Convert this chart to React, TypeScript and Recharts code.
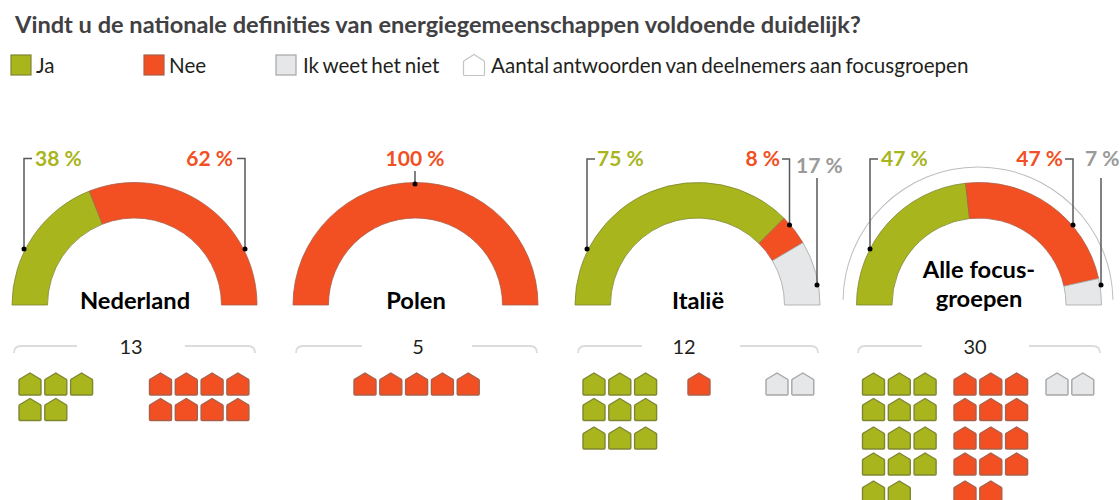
import React from 'react';
import { PieChart, Pie, Cell, ScatterChart, Scatter, XAxis, YAxis } from 'recharts';

const title = 'Vindt u de nationale definities van energiegemeenschappen voldoende duidelijk?';
const legendLabels = ['Ja', 'Nee', 'Ik weet het niet', 'Aantal antwoorden van deelnemers aan focusgroepen'];
const answers = ['Ja', 'Nee', 'Ik weet het niet'];

const jaPct = [38, 0, 75, 47];
const neePct = [62, 100, 8, 47];
const wnPct = [0, 0, 17, 7];
const jaCount = [5, 0, 9, 14];
const neeCount = [8, 5, 1, 14];
const wnCount = [0, 0, 2, 2];
const totals = [13, 5, 12, 30];

const GREEN = '#a8b51d';
const RED = '#f24f23';
const GREY = '#e6e7e8';
const FONT = 'Lato, "Open Sans", sans-serif';
const colors = [GREEN, RED, GREY];
const strokes = ['#7f8632', '#a9604a', '#a6a6a6'];

const centers = [134.5, 415.5, 697.5, 979];
const CY = 305;
const R = 122.5;
const r = 87;

const pieData = (i: number) =>
  answers
    .map((name, k) => ({ name, value: [jaPct, neePct, wnPct][k][i], k }))
    .filter((d) => d.value > 0);

// x of each answer's first house column, and columns per answer, for each group
const houseX = [
  [30, 160.5, 0],
  [0, 365, 0],
  [594, 699, 777],
  [873.5, 965, 1057],
];
const houseCols = [
  [3, 4, 1],
  [1, 5, 1],
  [3, 1, 2],
  [3, 3, 2],
];
const rowY = [384, 409.5, 438, 464, 492];
const PITCH = 25.8;

const houses = (k: number) => {
  const counts = [jaCount, neeCount, wnCount][k];
  const out: { x: number; y: number }[] = [];
  counts.forEach((n, g) => {
    for (let j = 0; j < n; j++) {
      const cols = houseCols[g][k];
      out.push({ x: houseX[g][k] + (j % cols) * PITCH, y: rowY[Math.floor(j / cols)] });
    }
  });
  return out;
};

const housePath = (x: number, y: number, w = 22, h = 22) => {
  const l = x - w / 2;
  const t = y - h / 2;
  return `M${l + 1} ${t + 6}L${x} ${t}L${l + w - 1} ${t + 6}Q${l + w} ${t + 6.5} ${l + w} ${t + 7.5}V${t + h - 1}Q${l + w} ${t + h} ${l + w - 1} ${t + h}H${l + 1}Q${l} ${t + h} ${l} ${t + h - 1}V${t + 7.5}Q${l} ${t + 6.5} ${l + 1} ${t + 6}Z`;
};

const House = (k: number) => (props: any) => (
  <path d={housePath(props.cx, props.cy)} fill={colors[k]} stroke={strokes[k]} strokeWidth={1.4} />
);

type Leader = { label: string; k: number; tx: number; ty: number; anchor: string; path: string; dx: number; dy: number };
const leaders: Leader[] = [
  { label: '38 %', k: 0, tx: 35, ty: 166, anchor: 'start', path: 'M24 249V158.5H32', dx: 24, dy: 249 },
  { label: '62 %', k: 1, tx: 233, ty: 166, anchor: 'end', path: 'M245 249V158.5H237', dx: 245, dy: 249 },
  { label: '100 %', k: 1, tx: 415, ty: 166, anchor: 'middle', path: 'M415 184V171', dx: 415, dy: 184 },
  { label: '75 %', k: 0, tx: 597, ty: 166, anchor: 'start', path: 'M587 249V159H595', dx: 587, dy: 249 },
  { label: '8 %', k: 1, tx: 780, ty: 166, anchor: 'end', path: 'M789.5 225V159H782', dx: 789.5, dy: 225 },
  { label: '17 %', k: 2, tx: 796, ty: 173, anchor: 'start', path: 'M817 285V178', dx: 817, dy: 285 },
  { label: '47 %', k: 0, tx: 881, ty: 166, anchor: 'start', path: 'M870 249V159H878', dx: 870, dy: 249 },
  { label: '47 %', k: 1, tx: 1063, ty: 166, anchor: 'end', path: 'M1073 225V159H1065', dx: 1073, dy: 225 },
  { label: '7 %', k: 2, tx: 1085, ty: 166, anchor: 'start', path: 'M1101 285V178', dx: 1101, dy: 285 },
];

const brackets = [
  { l: 14, lEnd: 77, rStart: 185, r: 255, tx: 131 },
  { l: 296, lEnd: 362, rStart: 472, r: 537, tx: 418 },
  { l: 578, lEnd: 642, rStart: 740, r: 818, tx: 684 },
  { l: 858, lEnd: 922, rStart: 1029, r: 1100, tx: 975 },
];

const legendX = [11, 144, 276, 463];
const legendTextX = [36, 169, 303, 491];
const textColors = [GREEN, RED, '#9a9a9a'];

export default function App() {
  return (
    <div style={{ position: 'absolute', left: 0, top: 0, width: 1120, height: 500, overflow: 'hidden', background: '#fff' }}>
      <div style={{ position: 'absolute', left: 0, top: 0 }}>
        <PieChart width={1120} height={500} margin={{ top: 0, right: 0, bottom: 0, left: 0 }}>
          {centers.map((cx, i) => (
            <Pie
              key={i}
              data={pieData(i)}
              dataKey="value"
              cx={cx}
              cy={CY}
              innerRadius={r}
              outerRadius={R}
              startAngle={180}
              endAngle={0}
              paddingAngle={0}
              stroke="#7d6b35"
              strokeWidth={0.8}
              isAnimationActive={false}
              label={false}
              labelLine={false}
            >
              {pieData(i).map((d) => (
                <Cell key={d.k} fill={colors[d.k]} stroke={strokes[d.k]} />
              ))}
            </Pie>
          ))}
          <Pie
            data={[{ name: 'Alle', value: totals[3] }]}
            dataKey="value"
            cx={978}
            cy={302}
            innerRadius={134.5}
            outerRadius={135.5}
            startAngle={179}
            endAngle={1}
            fill="#bdbdbd"
            stroke="none"
            isAnimationActive={false}
          />
        </PieChart>
      </div>
      <div style={{ position: 'absolute', left: 0, top: 0 }}>
        <ScatterChart width={1120} height={500} margin={{ top: 0, right: 0, bottom: 0, left: 0 }}>
          <XAxis type="number" dataKey="x" domain={[0, 1120]} hide />
          <YAxis type="number" dataKey="y" domain={[0, 500]} reversed hide />
          {answers.map((a, k) => (
            <Scatter key={a} name={a} data={houses(k)} shape={House(k)} isAnimationActive={false} />
          ))}
        </ScatterChart>
      </div>
      <svg width={1120} height={500} style={{ position: 'absolute', left: 0, top: 0 }} fontFamily={FONT}>
        <text x={15} y={33} fontSize={23.6} fontWeight={700} fill="#414042">{title}</text>
        {legendLabels.map((t, i) => (
          <g key={t}>
            {i < 3 ? (
              <rect x={legendX[i]} y={55} width={20} height={20} fill={colors[i]} stroke={strokes[i]} strokeWidth={1.2} />
            ) : (
              <path d={housePath(legendX[i] + 11, 65, 21, 21)} fill="#fff" stroke="#c4c4c4" strokeWidth={1.2} />
            )}
            <text x={legendTextX[i]} y={73} fontSize={20.6} wordSpacing={-1.5} fill="#231f20">{t}</text>
          </g>
        ))}
        {leaders.map((d, i) => (
          <g key={i}>
            <path d={d.path} fill="none" stroke="#58595b" strokeWidth={1.5} />
            <circle cx={d.dx} cy={d.dy} r={2.5} fill="#000" />
            <text x={d.tx} y={d.ty} textAnchor={d.anchor as any} fontSize={21} fontWeight={700} fill={textColors[d.k]}>{d.label}</text>
          </g>
        ))}
        <g fontSize={23.7} fontWeight={700} fill="#000" textAnchor="middle">
          <text x={135} y={309}>Nederland</text>
          <text x={416} y={309}>Polen</text>
          <text x={698} y={309}>Italië</text>
          <text x={979} y={278}>Alle focus-</text>
          <text x={979} y={307}>groepen</text>
        </g>
        {brackets.map((b, i) => (
          <g key={i}>
            <path
              d={`M${b.l} 353Q${b.l} 346 ${b.l + 7} 346H${b.lEnd}M${b.rStart} 346H${b.r - 7}Q${b.r} 346 ${b.r} 353`}
              fill="none"
              stroke="#dcdcdc"
              strokeWidth={1.8}
            />
            <text x={b.tx} y={354} textAnchor="middle" fontSize={20} fill="#231f20">{totals[i]}</text>
          </g>
        ))}
      </svg>
    </div>
  );
}
